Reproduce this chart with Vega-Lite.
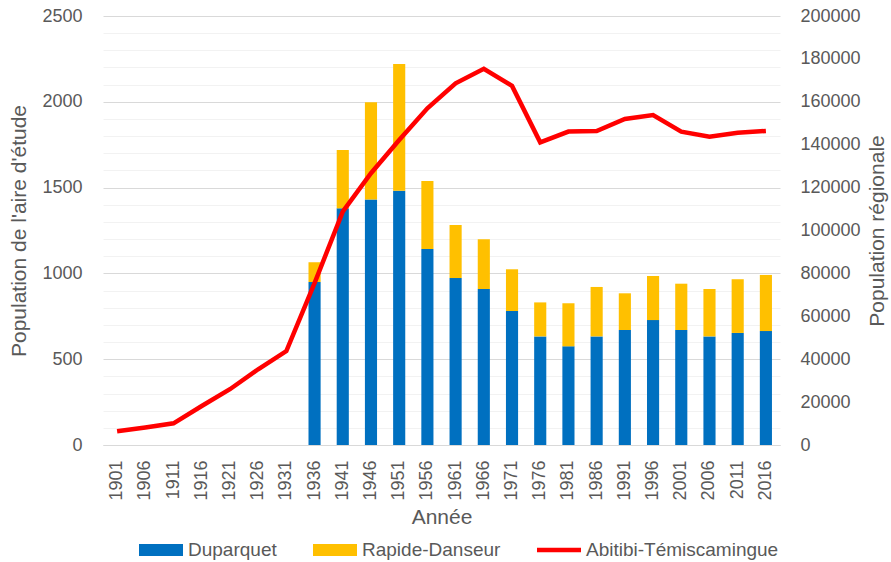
{
  "$schema": "https://vega.github.io/schema/vega-lite/v6.json",
  "width": 677,
  "height": 429,
  "autosize": {"type": "none"},
  "padding": {"left": 103, "top": 16, "right": 111, "bottom": 117},
  "background": "white",
  "config": {
    "view": {"stroke": null},
    "font": "Liberation Sans",
    "axis": {"labelColor": "#595959", "titleColor": "#595959", "labelFont": "Liberation Sans", "titleFont": "Liberation Sans", "labelFontSize": 18, "titleFontSize": 21, "titleFontWeight": "normal"},
    "legend": {"labelColor": "#595959", "labelFont": "Liberation Sans", "labelFontSize": 19, "labelLimit": 0}
  },
  "datasets": {
    "bars": [
      {"annee": "1936", "serie": "Duparquet", "population": 950},
      {"annee": "1936", "serie": "Rapide-Danseur", "population": 115},
      {"annee": "1941", "serie": "Duparquet", "population": 1379},
      {"annee": "1941", "serie": "Rapide-Danseur", "population": 340},
      {"annee": "1946", "serie": "Duparquet", "population": 1430},
      {"annee": "1946", "serie": "Rapide-Danseur", "population": 567},
      {"annee": "1951", "serie": "Duparquet", "population": 1482},
      {"annee": "1951", "serie": "Rapide-Danseur", "population": 738},
      {"annee": "1956", "serie": "Duparquet", "population": 1142},
      {"annee": "1956", "serie": "Rapide-Danseur", "population": 396},
      {"annee": "1961", "serie": "Duparquet", "population": 973},
      {"annee": "1961", "serie": "Rapide-Danseur", "population": 309},
      {"annee": "1966", "serie": "Duparquet", "population": 909},
      {"annee": "1966", "serie": "Rapide-Danseur", "population": 290},
      {"annee": "1971", "serie": "Duparquet", "population": 781},
      {"annee": "1971", "serie": "Rapide-Danseur", "population": 243},
      {"annee": "1976", "serie": "Duparquet", "population": 633},
      {"annee": "1976", "serie": "Rapide-Danseur", "population": 198},
      {"annee": "1981", "serie": "Duparquet", "population": 575},
      {"annee": "1981", "serie": "Rapide-Danseur", "population": 251},
      {"annee": "1986", "serie": "Duparquet", "population": 633},
      {"annee": "1986", "serie": "Rapide-Danseur", "population": 288},
      {"annee": "1991", "serie": "Duparquet", "population": 670},
      {"annee": "1991", "serie": "Rapide-Danseur", "population": 214},
      {"annee": "1996", "serie": "Duparquet", "population": 728},
      {"annee": "1996", "serie": "Rapide-Danseur", "population": 257},
      {"annee": "2001", "serie": "Duparquet", "population": 670},
      {"annee": "2001", "serie": "Rapide-Danseur", "population": 270},
      {"annee": "2006", "serie": "Duparquet", "population": 633},
      {"annee": "2006", "serie": "Rapide-Danseur", "population": 276},
      {"annee": "2011", "serie": "Duparquet", "population": 653},
      {"annee": "2011", "serie": "Rapide-Danseur", "population": 313},
      {"annee": "2016", "serie": "Duparquet", "population": 664},
      {"annee": "2016", "serie": "Rapide-Danseur", "population": 327}
    ],
    "region": [
      {"annee": "1901", "serie": "Abitibi-Témiscamingue", "population": 6400},
      {"annee": "1906", "serie": "Abitibi-Témiscamingue", "population": 8200},
      {"annee": "1911", "serie": "Abitibi-Témiscamingue", "population": 10100},
      {"annee": "1916", "serie": "Abitibi-Témiscamingue", "population": 18200},
      {"annee": "1921", "serie": "Abitibi-Témiscamingue", "population": 26000},
      {"annee": "1926", "serie": "Abitibi-Témiscamingue", "population": 35300},
      {"annee": "1931", "serie": "Abitibi-Témiscamingue", "population": 43800},
      {"annee": "1936", "serie": "Abitibi-Témiscamingue", "population": 75500},
      {"annee": "1941", "serie": "Abitibi-Témiscamingue", "population": 108800},
      {"annee": "1946", "serie": "Abitibi-Témiscamingue", "population": 126700},
      {"annee": "1951", "serie": "Abitibi-Témiscamingue", "population": 142200},
      {"annee": "1956", "serie": "Abitibi-Témiscamingue", "population": 157000},
      {"annee": "1961", "serie": "Abitibi-Témiscamingue", "population": 168600},
      {"annee": "1966", "serie": "Abitibi-Témiscamingue", "population": 175400},
      {"annee": "1971", "serie": "Abitibi-Témiscamingue", "population": 167400},
      {"annee": "1976", "serie": "Abitibi-Témiscamingue", "population": 141100},
      {"annee": "1981", "serie": "Abitibi-Témiscamingue", "population": 146100},
      {"annee": "1986", "serie": "Abitibi-Témiscamingue", "population": 146400},
      {"annee": "1991", "serie": "Abitibi-Témiscamingue", "population": 152000},
      {"annee": "1996", "serie": "Abitibi-Témiscamingue", "population": 153800},
      {"annee": "2001", "serie": "Abitibi-Témiscamingue", "population": 146100},
      {"annee": "2006", "serie": "Abitibi-Témiscamingue", "population": 143700},
      {"annee": "2011", "serie": "Abitibi-Témiscamingue", "population": 145600},
      {"annee": "2016", "serie": "Abitibi-Témiscamingue", "population": 146400}
    ]
  },
  "encoding": {
    "x": {
      "field": "annee",
      "type": "ordinal",
      "title": "Année",
      "scale": {
        "domain": ["1901","1906","1911","1916","1921","1926","1931","1936","1941","1946","1951","1956","1961","1966","1971","1976","1981","1986","1991","1996","2001","2006","2011","2016"],
        "paddingInner": 0.57,
        "paddingOuter": 0.285
      },
      "axis": {
        "labelAngle": -90,
        "ticks": false,
        "labelPadding": 15,
        "domainColor": "#d9d9d9",
        "domainWidth": 1,
        "titlePadding": 6
      }
    }
  },
  "layer": [
    {
      "data": {"name": "bars"},
      "mark": {"type": "bar"},
      "encoding": {
        "y": {
          "field": "population",
          "type": "quantitative",
          "stack": "zero",
          "title": "Population de l'aire d'étude",
          "scale": {"domain": [0, 2500], "nice": false},
          "axis": {
            "values": [0,100,200,300,400,500,600,700,800,900,1000,1100,1200,1300,1400,1500,1600,1700,1800,1900,2000,2100,2200,2300,2400,2500],
            "labelExpr": "datum.value % 500 === 0 ? datum.label : ''",
            "format": "d",
            "grid": true,
            "gridColor": {"condition": {"test": "datum.value % 500 === 0", "value": "#d9d9d9"}, "value": "#f2f2f2"},
            "gridWidth": 1,
            "domain": false,
            "ticks": false,
            "labelPadding": 21,
            "titlePadding": 12
          }
        },
        "color": {
          "field": "serie",
          "type": "nominal",
          "scale": {
            "domain": ["Duparquet", "Rapide-Danseur", "Abitibi-Témiscamingue"],
            "range": ["#0070c0", "#ffc000", "#ff0000"]
          },
          "legend": {
            "title": null,
            "orient": "none",
            "direction": "horizontal",
            "legendX": 36,
            "legendY": 512,
            "symbolType": "M-1,-0.27H1V0.27H-1Z",
            "symbolSize": 1936,
            "symbolStrokeWidth": 0,
            "labelOffset": 5,
            "labelLimit": 0,
            "columnPadding": 36,
            "encode": {
              "symbols": {
                "update": {
                  "shape": {"signal": "datum.value === 'Abitibi-Témiscamingue' ? 'M-1,-0.1H1V0.1H-1Z' : 'M-1,-0.27H1V0.27H-1Z'"},
                  "strokeWidth": {"value": 0}
                }
              }
            }
          }
        },
        "order": {"field": "serie", "sort": "ascending"}
      }
    },
    {
      "data": {"name": "region"},
      "mark": {"type": "line", "strokeWidth": 4.5, "color": "#ff0000"},
      "encoding": {
        "y": {
          "field": "population",
          "type": "quantitative",
          "title": "Population régionale",
          "scale": {"domain": [0, 200000], "nice": false},
          "axis": {
            "orient": "right",
            "values": [0,20000,40000,60000,80000,100000,120000,140000,160000,180000,200000],
            "format": "d",
            "grid": false,
            "domain": false,
            "ticks": false,
            "labelPadding": 20,
            "titlePadding": 27,
            "titleAngle": -90
          }
        },
        "color": {"field": "serie", "type": "nominal"}
      }
    }
  ],
  "resolve": {"scale": {"y": "independent"}}
}
